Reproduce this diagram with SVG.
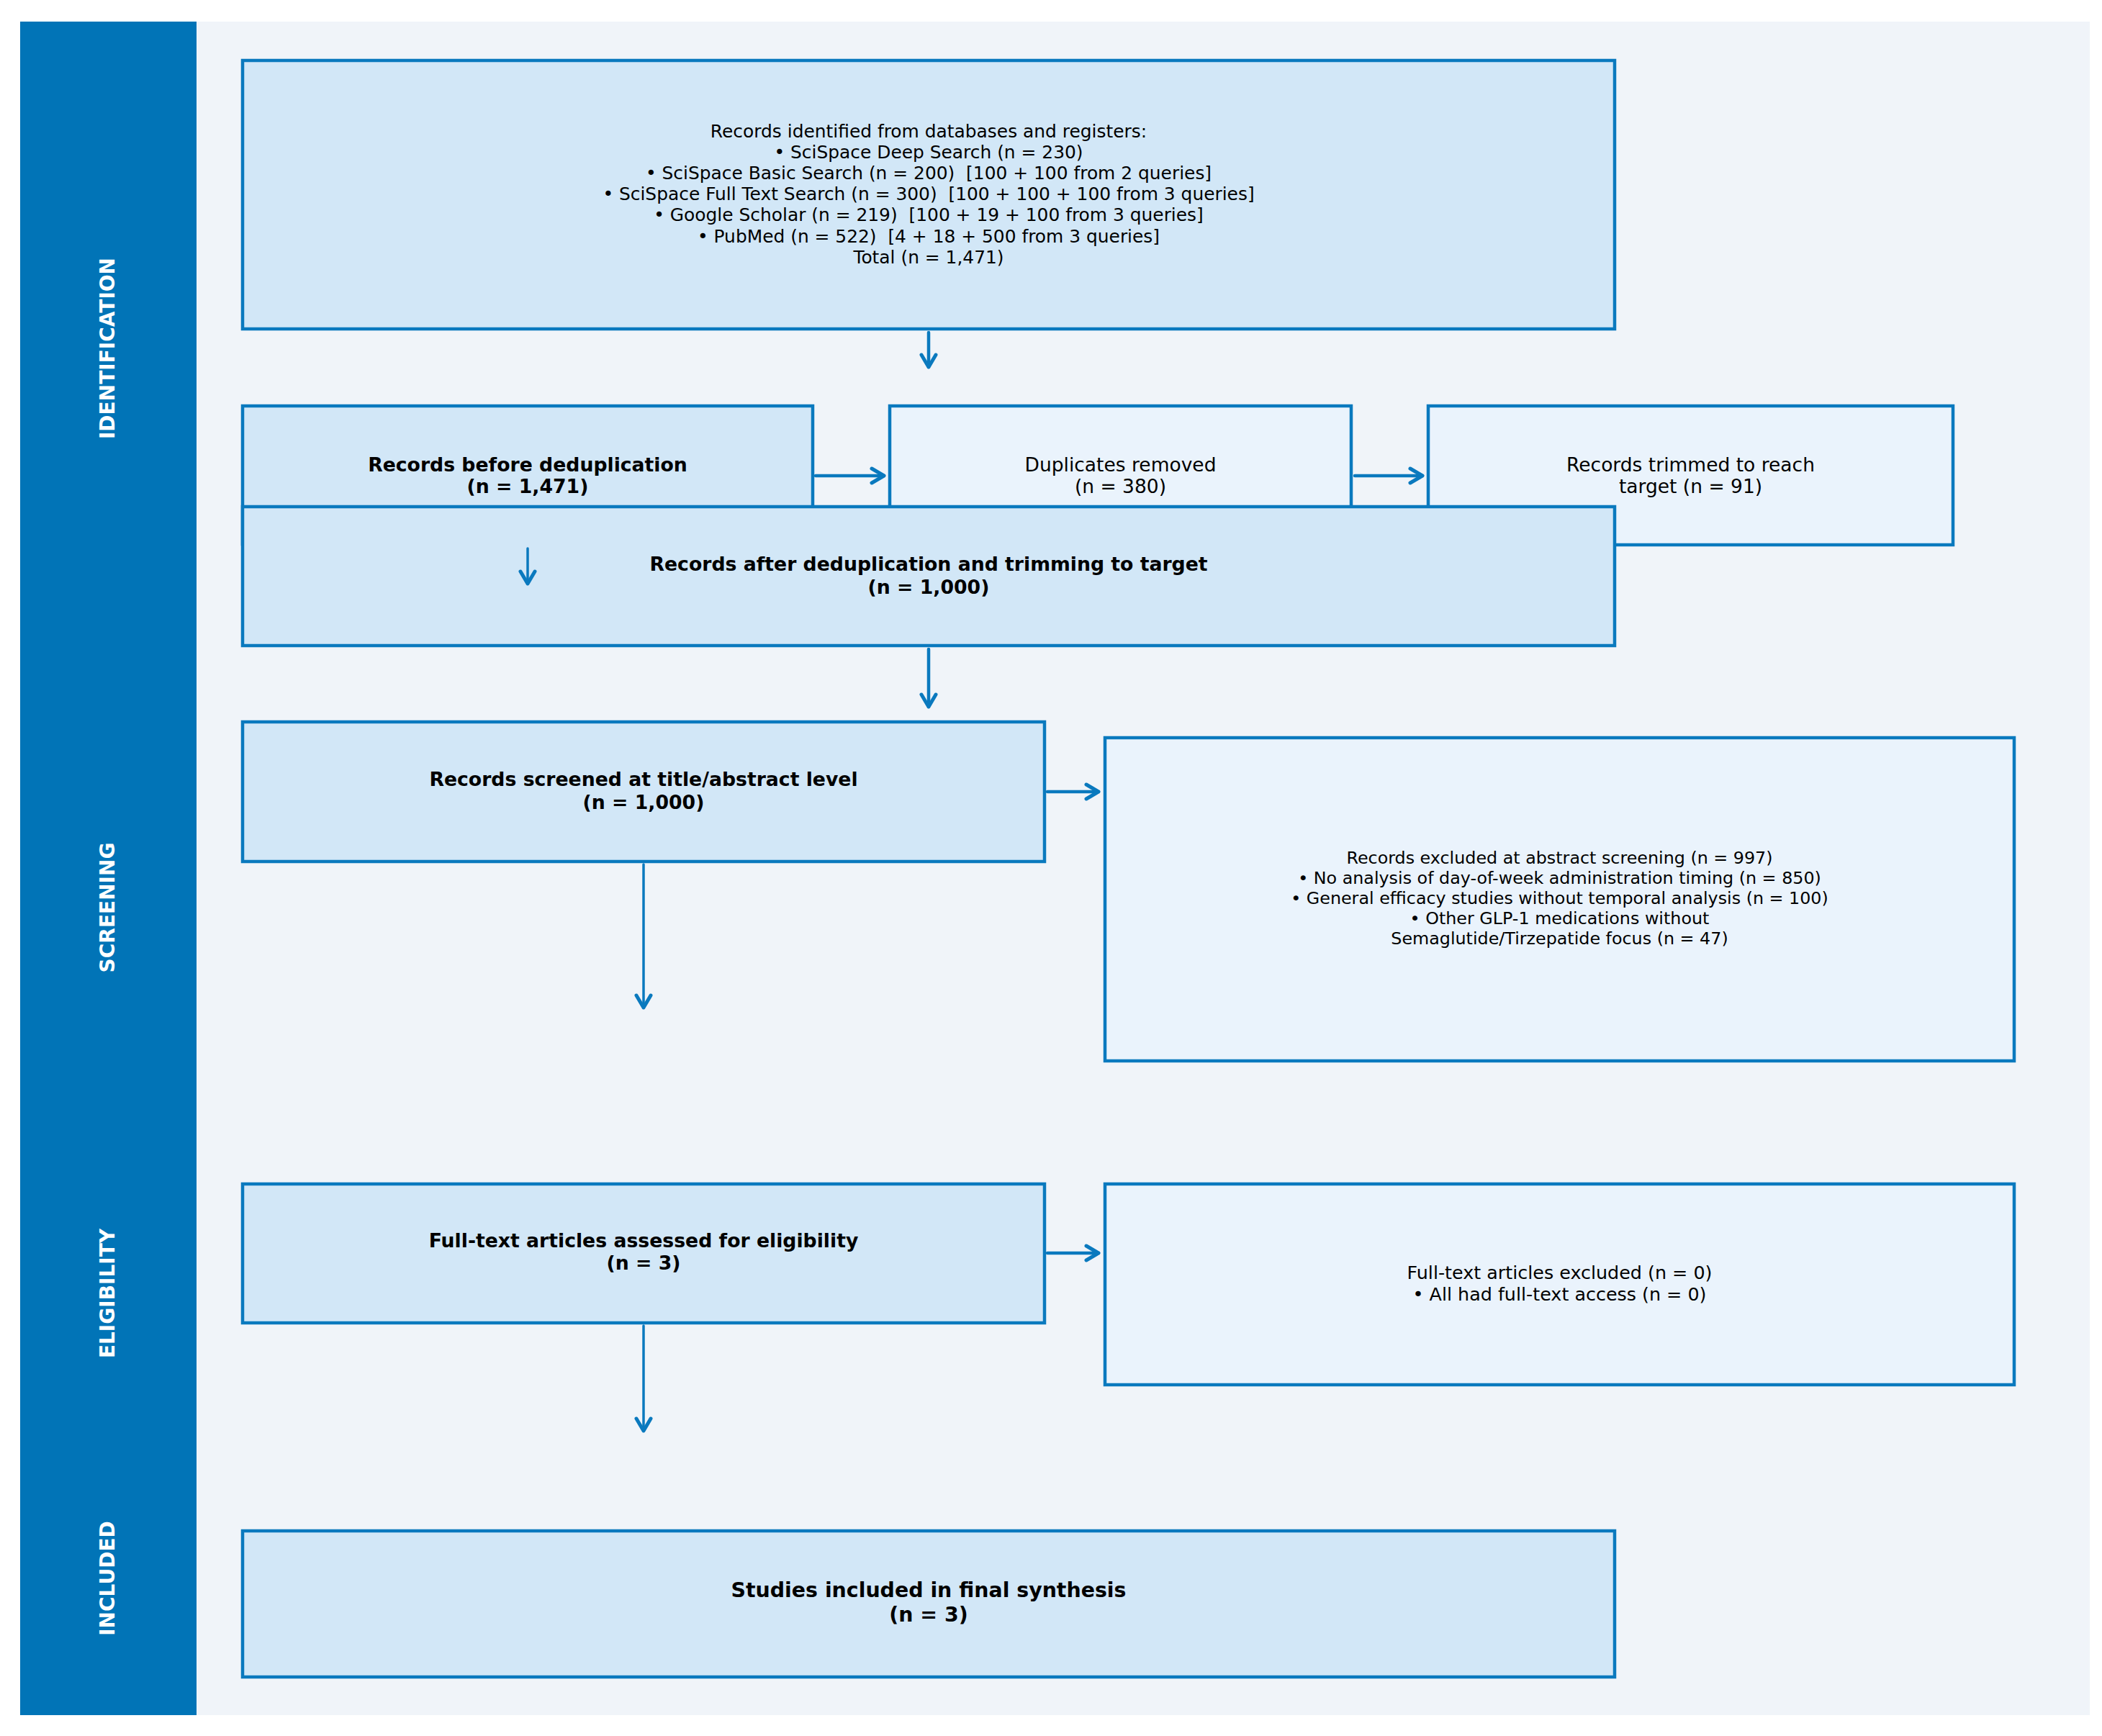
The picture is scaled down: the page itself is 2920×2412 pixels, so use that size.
<svg xmlns="http://www.w3.org/2000/svg" width="2920" height="2412" viewBox="0 0 2920 2412">
<style>
  .bx { stroke: #0A79BE; stroke-width: 4.5; }
  .dk { fill: #D2E7F7; }
  .lt { fill: #EAF3FC; }
  text { font-family: "DejaVu Sans", "Liberation Sans", sans-serif; fill: #000; text-anchor: middle; white-space: pre; }
  .b { font-weight: bold; }
  .lane { fill: #FFFFFF; font-weight: bold; font-size: 28px; }
  .ar { stroke: #0A79BE; stroke-width: 4.5; fill: none; stroke-linecap: round; }
  .ar2 { stroke: #0A79BE; stroke-width: 3.5; fill: none; stroke-linecap: round; }
</style>
<defs>
  <marker id="ah" viewBox="-24 -14 28 28" refX="0" refY="0" markerWidth="28" markerHeight="28" markerUnits="userSpaceOnUse" orient="auto">
    <path d="M-17,-10 L0,0 L-17,10" fill="none" stroke="#0A79BE" stroke-width="5" stroke-linecap="round" stroke-linejoin="round"/>
  </marker>
</defs>
<rect x="0" y="0" width="2920" height="2412" fill="#FFFFFF"/>
<rect x="273" y="30" width="2630" height="2353" fill="#F0F4F9"/>
<g id="sidebar">
  <rect x="28" y="30" width="245" height="2353" fill="#0174B7"/>
  <text class="lane" transform="translate(159,484) rotate(-90)">IDENTIFICATION</text>
  <text class="lane" transform="translate(159,1261) rotate(-90)">SCREENING</text>
  <text class="lane" transform="translate(159,1797) rotate(-90)">ELIGIBILITY</text>
  <text class="lane" transform="translate(159,2193) rotate(-90)">INCLUDED</text>
</g>
<g id="n-identified">
  <rect class="bx dk" x="337" y="84" width="1906" height="373"/>
  <text font-size="24.9" x="1290" y="190.5">Records identified from databases and registers:</text>
  <text font-size="24.9" x="1290" y="219.7">• SciSpace Deep Search (n = 230)</text>
  <text font-size="24.9" x="1290" y="248.9">• SciSpace Basic Search (n = 200)  [100 + 100 from 2 queries]</text>
  <text font-size="24.9" x="1290" y="278.1">• SciSpace Full Text Search (n = 300)  [100 + 100 + 100 from 3 queries]</text>
  <text font-size="24.9" x="1290" y="307.3">• Google Scholar (n = 219)  [100 + 19 + 100 from 3 queries]</text>
  <text font-size="24.9" x="1290" y="336.5">• PubMed (n = 522)  [4 + 18 + 500 from 3 queries]</text>
  <text font-size="24.9" x="1290" y="365.7">Total (n = 1,471)</text>
</g>
<g id="n-before">
  <rect class="bx dk" x="337" y="564" width="792" height="192"/>
  <text class="b" font-size="26.7" x="733" y="655">Records before deduplication</text>
  <text class="b" font-size="26.7" x="733" y="685">(n = 1,471)</text>
</g>
<g id="n-duplicates">
  <rect class="bx lt" x="1236" y="564" width="641" height="192"/>
  <text font-size="26.5" x="1556.5" y="655">Duplicates removed</text>
  <text font-size="26.5" x="1556.5" y="685">(n = 380)</text>
</g>
<g id="n-trimmed">
  <rect class="bx lt" x="1984" y="564" width="729" height="193"/>
  <text font-size="26.5" x="2348.5" y="655">Records trimmed to reach</text>
  <text font-size="26.5" x="2348.5" y="685">target (n = 91)</text>
</g>
<g id="n-after">
  <rect class="bx dk" x="337" y="704" width="1906" height="193"/>
  <text class="b" font-size="26.7" x="1290" y="793">Records after deduplication and trimming to target</text>
  <text class="b" font-size="26.7" x="1290" y="824.5">(n = 1,000)</text>
</g>
<g id="n-screened">
  <rect class="bx dk" x="337" y="1003" width="1114" height="194"/>
  <text class="b" font-size="26.7" x="894" y="1092">Records screened at title/abstract level</text>
  <text class="b" font-size="26.7" x="894" y="1123.5">(n = 1,000)</text>
</g>
<g id="n-excluded">
  <rect class="bx lt" x="1535" y="1025" width="1263" height="449"/>
  <text font-size="23.8" x="2166.5" y="1200">Records excluded at abstract screening (n = 997)</text>
  <text font-size="23.8" x="2166.5" y="1228">• No analysis of day-of-week administration timing (n = 850)</text>
  <text font-size="23.8" x="2166.5" y="1256">• General efficacy studies without temporal analysis (n = 100)</text>
  <text font-size="23.8" x="2166.5" y="1284">• Other GLP-1 medications without</text>
  <text font-size="23.8" x="2166.5" y="1312">Semaglutide/Tirzepatide focus (n = 47)</text>
</g>
<g id="n-eligibility">
  <rect class="bx dk" x="337" y="1645" width="1114" height="193"/>
  <text class="b" font-size="26.7" x="894" y="1732.5">Full-text articles assessed for eligibility</text>
  <text class="b" font-size="26.7" x="894" y="1764">(n = 3)</text>
</g>
<g id="n-ftexcluded">
  <rect class="bx lt" x="1535" y="1645" width="1263" height="279"/>
  <text font-size="25.4" x="2166.5" y="1777">Full-text articles excluded (n = 0)</text>
  <text font-size="25.4" x="2166.5" y="1807">• All had full-text access (n = 0)</text>
</g>
<g id="n-included">
  <rect class="bx dk" x="337" y="2127" width="1906" height="203"/>
  <text class="b" font-size="28.4" x="1290" y="2219">Studies included in final synthesis</text>
  <text class="b" font-size="28.4" x="1290" y="2252.5">(n = 3)</text>
</g>
<g id="connectors">
  <line class="ar" x1="1290" y1="462" x2="1290" y2="510" marker-end="url(#ah)"/>
  <line class="ar" x1="1133" y1="661" x2="1228" y2="661" marker-end="url(#ah)"/>
  <line class="ar" x1="1882" y1="661" x2="1976" y2="661" marker-end="url(#ah)"/>
  <line class="ar2" x1="733" y1="762" x2="733" y2="811" marker-end="url(#ah)"/>
  <line class="ar" x1="1290" y1="902" x2="1290" y2="982" marker-end="url(#ah)"/>
  <line class="ar2" x1="894" y1="1201" x2="894" y2="1400" marker-end="url(#ah)"/>
  <line class="ar" x1="1455" y1="1100" x2="1526" y2="1100" marker-end="url(#ah)"/>
  <line class="ar2" x1="894" y1="1842" x2="894" y2="1988" marker-end="url(#ah)"/>
  <line class="ar" x1="1455" y1="1741" x2="1526" y2="1741" marker-end="url(#ah)"/>
</g>
</svg>
